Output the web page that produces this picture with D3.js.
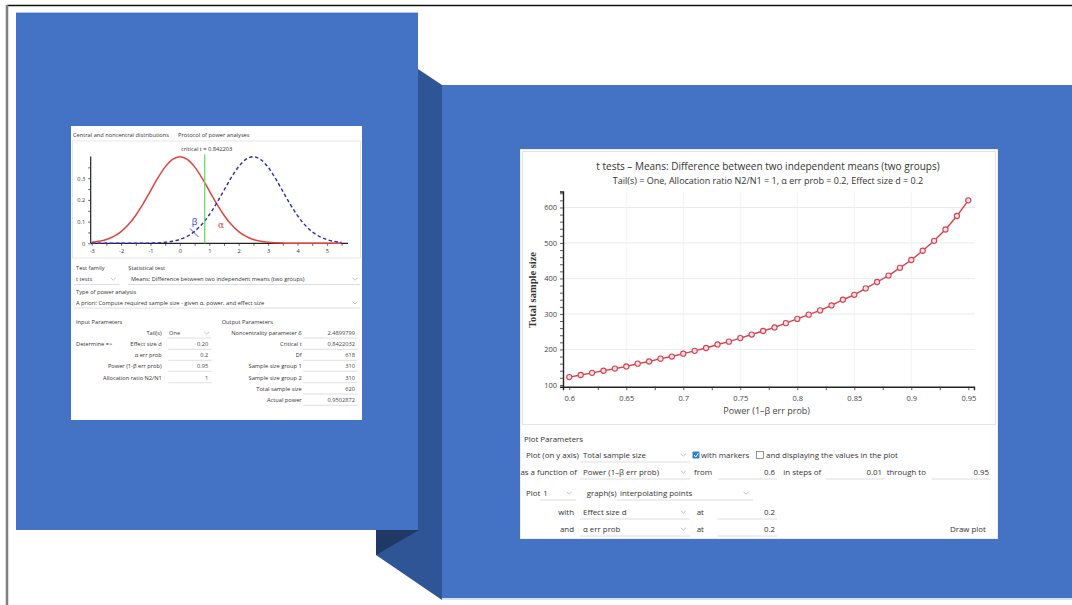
<!DOCTYPE html>
<html>
<head>
<meta charset="utf-8">
<script src="https://cdn.jsdelivr.net/npm/d3@7/dist/d3.min.js"></script>
<style>
  body { margin: 0; background: #fff; }
</style>
</head>
<body>
<div id="chart"></div>
<script>
// Power curve (right screenshot)
const powerValues = [0.60, 0.61, 0.62, 0.63, 0.64, 0.65, 0.66, 0.67, 0.68, 0.69,
  0.70, 0.71, 0.72, 0.73, 0.74, 0.75, 0.76, 0.77, 0.78, 0.79,
  0.80, 0.81, 0.82, 0.83, 0.84, 0.85, 0.86, 0.87, 0.88, 0.89,
  0.90, 0.91, 0.92, 0.93, 0.94, 0.95];
const totalSampleSize = [122, 128, 134, 140, 146, 152, 160, 166, 174, 180,
  188, 196, 204, 214, 222, 232, 242, 252, 262, 274,
  286, 298, 310, 324, 340, 354, 372, 390, 408, 430,
  452, 478, 506, 538, 576, 620];
const powerTicks = [0.6, 0.65, 0.7, 0.75, 0.8, 0.85, 0.9, 0.95];
const sizeTicks = [100, 200, 300, 400, 500, 600];

// Central / noncentral distributions (left screenshot)
const tGrid = [-3, -2.75, -2.5, -2.25, -2, -1.75, -1.5, -1.25, -1, -0.75, -0.5, -0.25, 0,
  0.25, 0.5, 0.75, 1, 1.25, 1.5, 1.75, 2, 2.25, 2.5, 2.75, 3,
  3.25, 3.5, 3.75, 4, 4.25, 4.5, 4.75, 5, 5.25, 5.5];
const centralDensity = [0.0044, 0.0091, 0.0175, 0.0317, 0.0540, 0.0863, 0.1295, 0.1826, 0.2420, 0.3011, 0.3521, 0.3867, 0.3989,
  0.3867, 0.3521, 0.3011, 0.2420, 0.1826, 0.1295, 0.0863, 0.0540, 0.0317, 0.0175, 0.0091, 0.0044,
  0.0020, 0.0009, 0.0004, 0.0001, 0, 0, 0, 0, 0, 0];
const noncentralDensity = [0, 0, 0, 0, 0, 0.0001, 0.0001, 0.0004, 0.0009, 0.0021, 0.0046, 0.0093, 0.0180,
  0.0325, 0.0551, 0.0878, 0.1315, 0.1849, 0.2444, 0.3034, 0.3538, 0.3876, 0.3989, 0.3857, 0.3503,
  0.2989, 0.2396, 0.1804, 0.1276, 0.0848, 0.0529, 0.0310, 0.0171, 0.0088, 0.0043];
const criticalT = 0.842203;
const tTicks = [-3, -2, -1, 0, 1, 2, 3, 4, 5];
const densityTicks = [0, 0.1, 0.2, 0.3];

// G*Power form texts
const inputLabels = ["Tail(s)", "Effect size d", "α err prob", "Power (1-β err prob)", "Allocation ratio N2/N1"];
const inputValues = ["One", "0.20", "0.2", "0.95", "1"];
const outputLabels = ["Noncentrality parameter δ", "Critical t", "Df", "Sample size group 1", "Sample size group 2", "Total sample size", "Actual power"];
const outputValues = ["2.4899799", "0.8422032", "618", "310", "310", "620", "0.9502872"];

const width = 1072;
const height = 605;
const blue = "#4472c4";
const sans = "'Open Sans', 'Noto Sans', sans-serif";

const svg = d3.select("#chart").append("svg")
    .attr("width", width)
    .attr("height", height)
    .style("font-family", sans);

// ---- page frame and blue panels
svg.append("line").attr("x1", 7).attr("x2", width).attr("y1", 5.5).attr("y2", 5.5)
    .attr("stroke", "#111").attr("stroke-width", 1.5);
svg.append("line").attr("x1", 7).attr("x2", 7).attr("y1", 5).attr("y2", height)
    .attr("stroke", "#808080").attr("stroke-width", 2.5);

svg.append("polygon")
    .attr("points", [[418, 69], [442, 85], [442, 600], [376, 555], [376, 530], [418, 530]].join(" "))
    .attr("fill", "#2f5597");
svg.append("polygon")
    .attr("points", [[376, 530], [419, 530], [376, 555]].join(" "))
    .attr("fill", "#203864");

svg.append("rect").attr("x", 16).attr("y", 12).attr("width", 402).attr("height", 518).attr("fill", blue);
svg.append("line").attr("x1", 16).attr("x2", 418).attr("y1", 12.5).attr("y2", 12.5).attr("stroke", "#a9c6ee");
svg.append("rect").attr("x", 442).attr("y", 85).attr("width", 630).attr("height", 513).attr("fill", blue);
svg.append("line").attr("x1", 442).attr("x2", width).attr("y1", 599).attr("y2", 599).attr("stroke", "#a9c6ee");

// small helpers
function chevron(g, x, y) {
  g.append("path")
    .attr("d", d3.line()([[x - 2.5, y - 1.2], [x, y + 1.2], [x + 2.5, y - 1.2]]))
    .attr("fill", "none").attr("stroke", "#aaa").attr("stroke-width", 0.7);
}
function label(g, x, y, t, size, anchor, color) {
  return g.append("text").attr("x", x).attr("y", y)
    .attr("font-size", size).attr("text-anchor", anchor || "start")
    .attr("fill", color || "#333").text(t);
}
function underline(g, x1, x2, y) {
  g.append("line").attr("x1", x1).attr("x2", x2).attr("y1", y).attr("y2", y)
    .attr("stroke", "#d6d6d6").attr("stroke-width", 0.8);
}

// ================= LEFT SCREENSHOT =================
const lfs = 5.7;
const left = svg.append("g");
left.append("rect").attr("x", 71).attr("y", 126).attr("width", 291).attr("height", 294).attr("fill", "#fff");
label(left, 73, 137, "Central and noncentral distributions", lfs);
label(left, 178, 137, "Protocol of power analyses", lfs);
left.append("rect").attr("x", 72.5).attr("y", 141).attr("width", 288).attr("height", 117)
    .attr("fill", "none").attr("stroke", "#e2e2e2").attr("stroke-width", 0.8);

const xd = d3.scaleLinear().domain([-3, 5.7]).range([91.7, 347.5]);
const yd = d3.scaleLinear().domain([0, 0.4]).range([243.3, 156.5]);

label(left, 206.7, 151, "critical t = 0.842203", lfs, "middle");

// axes
const xdAxis = left.append("g").attr("transform", "translate(0,243.3)")
    .call(d3.axisBottom(xd).tickValues(d3.range(-3, 5.6, 0.5)).tickSize(2.5)
      .tickFormat(d => tTicks.includes(d) ? d : ""));
const ydAxis = left.append("g").attr("transform", "translate(90.7,0)")
    .call(d3.axisLeft(yd).tickValues(d3.range(0, 0.4, 0.05)).tickSize(2.5)
      .tickFormat(d => densityTicks.some(v => Math.abs(v - d) < 1e-9) ? (d === 0 ? "0" : d3.format(".1f")(d)) : ""));
[xdAxis, ydAxis].forEach(a => {
  a.selectAll("path").attr("stroke", "#222").attr("stroke-width", 1.2);
  a.selectAll("line").attr("stroke", "#222").attr("stroke-width", 0.7);
  a.selectAll("text").attr("font-size", lfs).attr("fill", "#333").style("font-family", sans);
});
xdAxis.select(".domain").attr("d", `M${90.7},0H${348}`);
ydAxis.select(".domain").attr("d", `M0,${243.3}V${156.5}`);

const distLine = d3.line().curve(d3.curveMonotoneX).x((d, i) => xd(tGrid[i])).y(d => yd(d));
left.append("path").datum(centralDensity).attr("d", distLine)
    .attr("fill", "none").attr("stroke", "#e0443f").attr("stroke-width", 1.5);
left.append("path").datum(noncentralDensity).attr("d", distLine)
    .attr("fill", "none").attr("stroke", "#2b2bb0").attr("stroke-width", 1.4)
    .attr("stroke-dasharray", "3.5,2.5");
left.append("line").attr("x1", xd(criticalT)).attr("x2", xd(criticalT))
    .attr("y1", yd(0.41)).attr("y2", yd(0))
    .attr("stroke", "#6fe06f").attr("stroke-width", 1.4);
label(left, 194.5, 225, "β", 9, "middle", "#3a3ac8");
label(left, 221, 228, "α", 9, "middle", "#e0443f").style("font-family", "'DejaVu Serif', serif");
left.append("line").attr("x1", 190).attr("y1", 228.5).attr("x2", 198.5).attr("y2", 237)
    .attr("stroke", "#3a3ac8").attr("stroke-width", 0.9);

// form
label(left, 76, 270, "Test family", lfs);
label(left, 128.3, 270, "Statistical test", lfs);
label(left, 76, 281, "t tests", lfs);
underline(left, 74, 120, 284.5); chevron(left, 113.3, 279);
label(left, 131, 281, "Means: Difference between two independent means (two groups)", lfs);
underline(left, 128, 360, 284.5); chevron(left, 355, 279);
label(left, 76, 294.3, "Type of power analysis", lfs);
label(left, 76, 304.7, "A priori: Compute required sample size - given α, power, and effect size", lfs);
underline(left, 74, 360, 308); chevron(left, 355, 302.7);
label(left, 76, 323.7, "Input Parameters", lfs);
label(left, 221.7, 323.7, "Output Parameters", lfs);

const rowY = [333, 344.3, 355.3, 366.3, 377.7, 389, 400.3];
inputLabels.forEach((t, i) => {
  label(left, 161.7, rowY[i] + 2, t, lfs, "end");
  underline(left, 168.3, 211.7, rowY[i] + 5);
  if (i === 0) {
    label(left, 169, rowY[i] + 2, inputValues[i], lfs, "start", "#444");
    chevron(left, 206.7, rowY[i]);
  } else {
    label(left, 208.3, rowY[i] + 2, inputValues[i], lfs, "end", "#444");
  }
});
label(left, 76, rowY[1] + 2, "Determine =>", lfs);
outputLabels.forEach((t, i) => {
  label(left, 301.7, rowY[i] + 2, t, lfs, "end");
  underline(left, 303.3, 357.3, rowY[i] + 5);
  label(left, 355, rowY[i] + 2, outputValues[i], lfs, "end", "#444");
});

// ================= RIGHT SCREENSHOT =================
svg.append("clipPath").attr("id", "rightClip")
  .append("rect").attr("x", 520).attr("y", 149).attr("width", 478).attr("height", 390);
const right = svg.append("g").attr("clip-path", "url(#rightClip)");
right.append("rect").attr("x", 520).attr("y", 149).attr("width", 478).attr("height", 390)
    .attr("fill", "#fff").attr("stroke", "#dcdcdc");
right.append("rect").attr("x", 522.5).attr("y", 151.5).attr("width", 473).attr("height", 273)
    .attr("fill", "none").attr("stroke", "#e4e4e4");

const x = d3.scaleLinear().domain([0.5945, 0.955]).range([563, 974]);
const y = d3.scaleLinear().domain([95, 645]).range([386.7, 191.5]);

label(right, 768, 169.5, "t tests – Means: Difference between two independent means (two groups)", 10, "middle", "#333");
label(right, 768, 183.5, "Tail(s) = One, Allocation ratio N2/N1 = 1, α err prob = 0.2, Effect size d = 0.2", 9, "middle", "#333");

// grid
right.append("g").selectAll("line").data(sizeTicks.slice(1)).join("line")
    .attr("x1", 563).attr("x2", 975).attr("y1", d => y(d)).attr("y2", d => y(d))
    .attr("stroke", "#e6e6e6").attr("stroke-width", 0.8);
right.append("g").selectAll("line").data(powerTicks.slice(1, -1)).join("line")
    .attr("x1", d => x(d)).attr("x2", d => x(d)).attr("y1", 191.5).attr("y2", 386.7)
    .attr("stroke", "#f0f0f0").attr("stroke-width", 0.8);

const xAxis = right.append("g").attr("transform", "translate(0,386.7)")
    .call(d3.axisBottom(x).tickValues(d3.range(0.6, 0.951, 0.025)).tickSize(3.5)
      .tickFormat(d => powerTicks.some(v => Math.abs(v - d) < 1e-9) ? d3.format("")(+d.toFixed(2)) : ""));
const yAxis = right.append("g").attr("transform", "translate(563,0)")
    .call(d3.axisLeft(y).tickValues(d3.range(100, 641, 20)).tickSize(3)
      .tickFormat(d => sizeTicks.includes(d) ? d : ""));
[xAxis, yAxis].forEach(a => {
  a.selectAll("path").attr("stroke", "#222").attr("stroke-width", 1.4);
  a.selectAll("line").attr("stroke", "#333").attr("stroke-width", 0.8);
  a.selectAll("text").attr("font-size", 7.5).attr("fill", "#444").style("font-family", sans);
});
xAxis.selectAll("text").attr("dy", "1.05em");

right.append("text")
    .attr("transform", "translate(535.5,290) rotate(-90)")
    .attr("text-anchor", "middle").attr("font-size", 10.5).attr("font-weight", "bold")
    .style("font-family", "'Liberation Serif', 'DejaVu Serif', serif").attr("fill", "#333")
    .text("Total sample size");
label(right, 766.7, 413.5, "Power (1–β err prob)", 9, "middle", "#444");

const curve = d3.line().x((d, i) => x(powerValues[i])).y(d => y(d));
right.append("path").datum(totalSampleSize).attr("d", curve)
    .attr("fill", "none").attr("stroke", "#d9404e").attr("stroke-width", 1.4);
right.append("g").selectAll("circle").data(totalSampleSize).join("circle")
    .attr("cx", (d, i) => x(powerValues[i])).attr("cy", d => y(d)).attr("r", 2.6)
    .attr("fill", "#fbe3e6").attr("stroke", "#d9404e").attr("stroke-width", 1.1);

// plot parameters
const fs = 7.9;
label(right, 524, 442, "Plot Parameters", fs);
label(right, 526, 458, "Plot (on y axis)", fs);
label(right, 583, 458, "Total sample size", fs);
underline(right, 580, 690, 462); chevron(right, 683.3, 455);
right.append("rect").attr("x", 692.5).attr("y", 451.5).attr("width", 7).attr("height", 7).attr("rx", 1)
    .attr("fill", "#2f7fd0");
right.append("path").attr("d", d3.line()([[694, 455], [695.8, 457], [698.5, 453]]))
    .attr("fill", "none").attr("stroke", "#fff").attr("stroke-width", 1);
label(right, 701, 458, "with markers", fs);
right.append("rect").attr("x", 756.5).attr("y", 451.5).attr("width", 7).attr("height", 7)
    .attr("fill", "#fff").attr("stroke", "#666").attr("stroke-width", 0.7);
label(right, 766, 458, "and displaying the values in the plot", fs);

label(right, 577, 475, "as a function of", fs, "end");
label(right, 583, 475, "Power (1–β err prob)", fs);
underline(right, 580, 690, 479); chevron(right, 683.3, 472);
label(right, 694, 475, "from", fs);
underline(right, 717.7, 777, 479); label(right, 775, 475, "0.6", fs, "end");
label(right, 783.3, 475, "in steps of", fs);
underline(right, 826, 885, 479); label(right, 882, 475, "0.01", fs, "end");
label(right, 886.7, 475, "through to", fs);
underline(right, 931.7, 991, 479); label(right, 989, 475, "0.95", fs, "end");

label(right, 526, 496, "Plot", fs);
label(right, 543.3, 496, "1", fs);
underline(right, 540, 576, 500); chevron(right, 569.3, 493);
label(right, 586.7, 496, "graph(s)", fs);
label(right, 620, 496, "interpolating points", fs);
underline(right, 617, 753, 500); chevron(right, 746, 493);

label(right, 574, 515, "with", fs, "end");
label(right, 583, 515, "Effect size d", fs);
underline(right, 580, 690, 519); chevron(right, 683.3, 512);
label(right, 696.7, 515, "at", fs);
underline(right, 717.7, 777, 519); label(right, 775, 515, "0.2", fs, "end");

label(right, 574, 532, "and", fs, "end");
label(right, 583, 532, "α err prob", fs);
underline(right, 580, 690, 536); chevron(right, 683.3, 529);
label(right, 696.7, 532, "at", fs);
underline(right, 717.7, 777, 536); label(right, 775, 532, "0.2", fs, "end");
label(right, 950, 532, "Draw plot", fs);
</script>
</body>
</html>
